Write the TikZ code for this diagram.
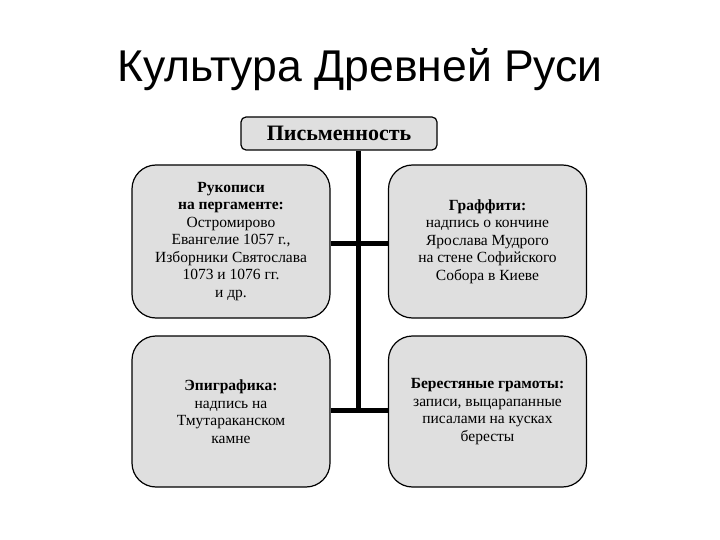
\documentclass[tikz,border=0pt]{standalone}
\usepackage{fontspec}
\setmainfont{Liberation Serif}
\newfontfamily\titlefont{Liberation Sans}
\begin{document}
\begin{tikzpicture}[x=1pt,y=-1pt,
  box/.style={draw=black,line width=1.2pt,fill=gray!25,rounded corners=24pt,minimum width=198pt,minimum height=153pt,align=center,font=\fontsize{15.5}{17.5}\selectfont,inner sep=2pt},
  conn/.style={line width=5pt}]
\useasboundingbox (0,0) rectangle (720,540);
\node[font=\titlefont\fontsize{44.5}{48}\selectfont] (title) at (360,70) {Культура Древней Руси};
\node[draw=black,line width=1.2pt,fill=gray!25,rounded corners=5pt,minimum width=196pt,minimum height=33pt,font=\bfseries\fontsize{22}{24}\selectfont] (top) at (339,133.5) {Письменность};
\node[box] (a) at (231,241.5) {\textbf{Рукописи}\\\textbf{на пергаменте:}\\Остромирово\\Евангелие 1057 г.,\\Изборники Святослава\\1073 и 1076 гг.\\и др.};
\node[box] (b) at (487.5,241.5) {\textbf{Граффити:}\\надпись о кончине\\Ярослава Мудрого\\на стене Софийского\\Собора в Киеве};
\node[box,minimum height=151pt] (c) at (231,411.5) {\textbf{Эпиграфика:}\\надпись на\\Тмутараканском\\камне};
\node[box,minimum height=151pt] (d) at (487.5,411.5) {\textbf{Берестяные грамоты:}\\записи, выцарапанные\\писалами на кусках\\бересты};
\coordinate (m1) at (358,243);
\coordinate (m2) at (358,410);
\draw[conn] (top.south -| m1) -- ([yshift=2.5pt]m2);
\draw[conn] (a.east |- m1) -- (b.west |- m1);
\draw[conn] (c.east |- m2) -- (d.west |- m2);
\end{tikzpicture}
\end{document}
